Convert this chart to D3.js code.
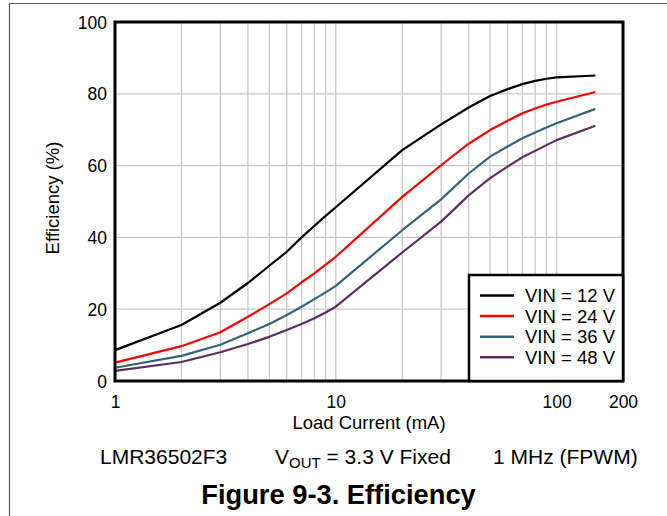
<!DOCTYPE html>
<html>
<head>
<meta charset="utf-8">
<script src="https://cdn.jsdelivr.net/npm/d3@7"></script>
<style>
  html, body { margin: 0; padding: 0; background: #fff; }
  svg { display: block; font-family: "Liberation Sans", Arial, sans-serif; }
</style>
</head>
<body>
<svg id="chart" width="667" height="516"></svg>
<script>
// Load current (mA)
const loadCurrent = [1, 2, 3, 4, 5, 6, 7, 8, 9, 10, 20, 30, 40, 50, 60, 70, 80, 90, 100, 150];
// Efficiency (%) per input voltage
const eff12 = [8.6, 15.6, 21.8, 27.3, 32.1, 36.0, 40.0, 43.2, 46.0, 48.4, 64.3, 71.5, 76.2, 79.4, 81.3, 82.7, 83.6, 84.2, 84.6, 85.1];
const eff24 = [5.1, 9.7, 13.6, 17.9, 21.4, 24.4, 27.5, 30.0, 32.4, 34.6, 51.3, 60.1, 66.1, 69.9, 72.5, 74.6, 75.9, 77.0, 77.8, 80.5];
const eff36 = [3.7, 7.0, 10.1, 13.3, 15.9, 18.4, 20.7, 22.8, 24.7, 26.5, 42.0, 50.6, 57.8, 62.5, 65.3, 67.6, 69.2, 70.6, 71.8, 75.8];
const eff48 = [2.8, 5.3, 8.0, 10.3, 12.3, 14.2, 15.9, 17.5, 19.1, 20.7, 35.8, 44.4, 51.7, 56.5, 59.7, 62.3, 64.1, 65.7, 67.1, 71.1];
const seriesNames = ["VIN = 12 V", "VIN = 24 V", "VIN = 36 V", "VIN = 48 V"];
const seriesColors = ["#000000", "#ff0000", "#33657a", "#5e2d64"];
const xTicks = [1, 10, 100, 200];
const yTicks = [0, 20, 40, 60, 80, 100];
const xGrid = [2,3,4,5,6,7,8,9,10,20,30,40,50,60,70,80,90,100];

const series = [eff12, eff24, eff36, eff48].map((vals, i) => ({
  name: seriesNames[i], color: seriesColors[i],
  points: loadCurrent.map((x, j) => [x, vals[j]])
}));

const svg = d3.select("#chart");
const L = 115, R = 623, T = 22, B = 381;

// outer frame (partial)
svg.append("path")
  .attr("d", "M9.5,520 L9.5,3.5 L680,3.5")
  .attr("fill", "none").attr("stroke", "#555").attr("stroke-width", 1.2);

const x = d3.scaleLog().domain([1, 200]).range([L, R]);
const y = d3.scaleLinear().domain([0, 100]).range([B, T]);

const g = svg.append("g");

// grid
g.selectAll(".vg").data(xGrid).enter().append("line")
  .attr("x1", d => x(d)).attr("x2", d => x(d))
  .attr("y1", T).attr("y2", B)
  .attr("stroke", "#c8c8c8").attr("stroke-width", 1.3);
g.selectAll(".hg").data(yTicks.filter(d => d > 0 && d < 100)).enter().append("line")
  .attr("x1", L).attr("x2", R)
  .attr("y1", d => y(d)).attr("y2", d => y(d))
  .attr("stroke", "#c8c8c8").attr("stroke-width", 1.3);

// axes (labels only)
const xAxis = d3.axisBottom(x).tickValues(xTicks).tickFormat(d3.format("d")).tickSize(0).tickPadding(0);
const xa = svg.append("g").attr("transform", `translate(0,${B})`).call(xAxis);
xa.select(".domain").remove();
xa.selectAll("text").attr("font-size", 17.5).attr("fill", "#000")
  .attr("font-family", "Liberation Sans, Arial, sans-serif")
  .attr("dy", null).attr("y", 27);

const yAxis = d3.axisLeft(y).tickValues(yTicks).tickFormat(d3.format("d")).tickSize(0).tickPadding(0);
const ya = svg.append("g").attr("transform", `translate(107,0)`).call(yAxis);
ya.select(".domain").remove();
ya.selectAll("text").attr("font-size", 17.5).attr("fill", "#000")
  .attr("font-family", "Liberation Sans, Arial, sans-serif")
  .attr("dy", "0.35em");

// lines
const line = d3.line().x(d => x(d[0])).y(d => y(d[1])).curve(d3.curveLinear);
g.selectAll(".ser").data(series).enter().append("path")
  .attr("d", d => line(d.points))
  .attr("fill", "none").attr("stroke", d => d.color).attr("stroke-width", 2.2)
  .attr("stroke-linejoin", "round");

// plot border
svg.append("rect").attr("x", L).attr("y", T).attr("width", R - L).attr("height", B - T)
  .attr("fill", "none").attr("stroke", "#000").attr("stroke-width", 3);

// legend
const lg = svg.append("g");
lg.append("rect").attr("x", 469).attr("y", 275).attr("width", R - 469).attr("height", B - 275)
  .attr("fill", "#fff").attr("stroke", "#000").attr("stroke-width", 2.5);
series.forEach((s, i) => {
  const yy = 295.5 + i * 20.6;
  lg.append("line").attr("x1", 480).attr("x2", 514).attr("y1", yy).attr("y2", yy)
    .attr("stroke", s.color).attr("stroke-width", 2.5);
  lg.append("text").attr("x", 525).attr("y", yy).attr("dy", "0.36em")
    .attr("font-size", 18.5).text(s.name);
});

// axis titles
svg.append("text").attr("x", (L + R) / 2).attr("y", 429).attr("text-anchor", "middle")
  .attr("font-size", 18.5).text("Load Current (mA)");
svg.append("text").attr("transform", "translate(59,198) rotate(-90)").attr("text-anchor", "middle")
  .attr("font-size", 18.5).text("Efficiency (%)");

// caption
svg.append("text").attr("x", 100).attr("y", 464).attr("font-size", 21).text("LMR36502F3");
const vt = svg.append("text").attr("x", 275).attr("y", 464).attr("font-size", 21);
vt.append("tspan").text("V");
vt.append("tspan").attr("font-size", 15).attr("dy", 4).text("OUT");
vt.append("tspan").attr("dy", -4).text(" = 3.3 V Fixed");
svg.append("text").attr("x", 493).attr("y", 464).attr("font-size", 21).text("1 MHz (FPWM)");

// figure title
svg.append("text").attr("x", 338.5).attr("y", 503.5).attr("text-anchor", "middle")
  .attr("font-size", 27.3).attr("font-weight", "bold").text("Figure 9-3. Efficiency");
</script>
</body>
</html>
